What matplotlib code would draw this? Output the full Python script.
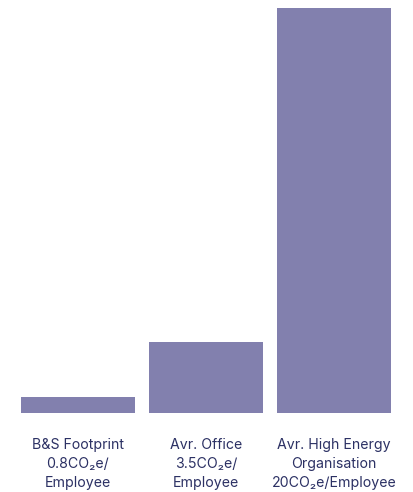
import matplotlib.pyplot as plt

labels = [
    "B&S Footprint\n0.8CO\u2082e/\nEmployee",
    "Avr. Office\n3.5CO\u2082e/\nEmployee",
    "Avr. High Energy\nOrganisation\n20CO\u2082e/Employee",
]
values = [0.8, 3.5, 20]

plt.rcParams["font.family"] = ["Inter", "DejaVu Sans"]

fig = plt.figure(figsize=(4.14, 4.92), dpi=100)
ax = fig.add_axes([14 / 414, 79 / 492, 384 / 414, 405 / 492])

x = list(range(len(values)))
ax.bar(x, values, width=0.89, color="#8280ae")
ax.set_xlim(-0.5, 2.5)
ax.set_ylim(0, 20)

ax.set_xticks(x)
ax.set_xticklabels(labels, fontsize=10.2, color="#2c3164", linespacing=1.45,
                   multialignment="center")
ax.tick_params(axis="x", length=0, pad=18)
ax.set_yticks([])
for s in ax.spines.values():
    s.set_visible(False)

fig.savefig("out.png", dpi=100)
